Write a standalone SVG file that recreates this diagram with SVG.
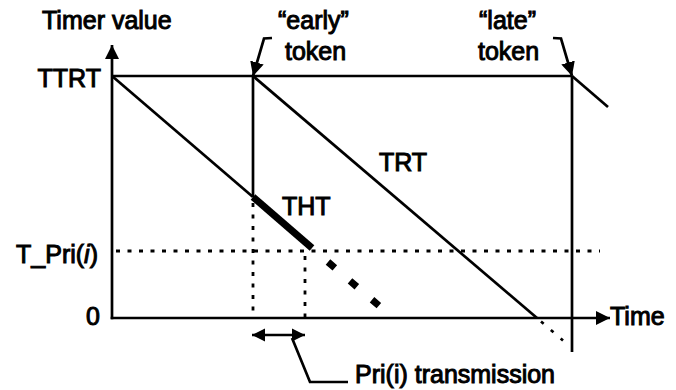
<svg xmlns="http://www.w3.org/2000/svg" width="676" height="390" viewBox="0 0 676 390">
  <style>
    text { font-family: "Liberation Sans", Arial, sans-serif; font-size: 25px; fill: #000; stroke: #000; stroke-width: 1px; }
    .ln { fill: none; stroke: #000; stroke-width: 2.7; }
    .dot { fill: none; stroke: #000; stroke-width: 2.8; stroke-dasharray: 4 7.5; }
    .thick { fill: none; stroke: #000; stroke-width: 7; }
  </style>
  <defs>
    <marker id="head" viewBox="0 0 12 12" refX="12" refY="6" markerWidth="14" markerHeight="16" markerUnits="userSpaceOnUse" orient="auto-start-reverse">
      <path d="M0,0 L12,6 L0,12 z" fill="#000"/>
    </marker>
    <marker id="small" viewBox="0 0 12 12" refX="12" refY="6" markerWidth="13" markerHeight="15" markerUnits="userSpaceOnUse" orient="auto-start-reverse">
      <path d="M0,0 L12,6 L0,12 z" fill="#000"/>
    </marker>
  </defs>

  <!-- axes -->
  <g id="axes">
    <line class="ln" x1="112" y1="319.3" x2="112" y2="45" marker-end="url(#head)"/>
    <line class="ln" x1="110.7" y1="318" x2="610" y2="318" marker-end="url(#head)"/>
    <text x="42" y="29">Timer value</text>
    <text x="610" y="325">Time</text>
    <text x="101" y="87" text-anchor="end">TTRT</text>
    <text x="98" y="263" text-anchor="end">T_Pri(<tspan font-style="italic">i</tspan>)</text>
    <text x="100" y="325" text-anchor="end">0</text>
  </g>

  <!-- reference levels and token arrival lines -->
  <g id="levels">
    <line class="ln" x1="112" y1="76" x2="572" y2="76"/>
    <line class="dot" x1="116" y1="251" x2="600" y2="251"/>
    <line class="ln" x1="253" y1="76" x2="253" y2="197"/>
    <line class="dot" x1="253" y1="203" x2="253" y2="318"/>
    <line class="dot" x1="305" y1="256" x2="305" y2="318"/>
    <line class="ln" x1="572" y1="76" x2="572" y2="352"/>
  </g>

  <!-- timer curves -->
  <g id="timers">
    <line class="ln" x1="112" y1="76" x2="253" y2="197"/>
    <line class="thick" x1="253" y1="197" x2="312" y2="248"/>
    <line class="thick" x1="328" y1="262" x2="384" y2="310" stroke-width="8" stroke-dasharray="9 20"/>
    <line class="ln" x1="253" y1="76" x2="537" y2="318"/>
    <line class="ln" x1="541" y1="321.5" x2="563" y2="340.5" stroke-width="3.5" stroke-dasharray="3.5 9.5"/>
    <line class="ln" x1="572" y1="76" x2="608" y2="107"/>
    <text x="379" y="171">TRT</text>
    <text x="282" y="215">THT</text>
  </g>

  <!-- token arrival pointers -->
  <g id="tokens">
    <polyline class="ln" points="272,38 264,38.5 253,76" marker-end="url(#head)"/>
    <polyline class="ln" points="553,38 561,38.5 572,76" marker-end="url(#head)"/>
    <text x="278" y="29">“early”</text>
    <text x="285" y="60">token</text>
    <text x="479" y="29">“late”</text>
    <text x="478" y="60">token</text>
  </g>

  <!-- transmission interval -->
  <g id="transmission">
    <line class="ln" x1="252" y1="335" x2="305" y2="335" stroke-width="3.5" marker-start="url(#small)" marker-end="url(#small)"/>
    <polyline class="ln" points="292,338 310,382 348,382"/>
    <text x="355" y="383">Pri(i) transmission</text>
  </g>
</svg>
